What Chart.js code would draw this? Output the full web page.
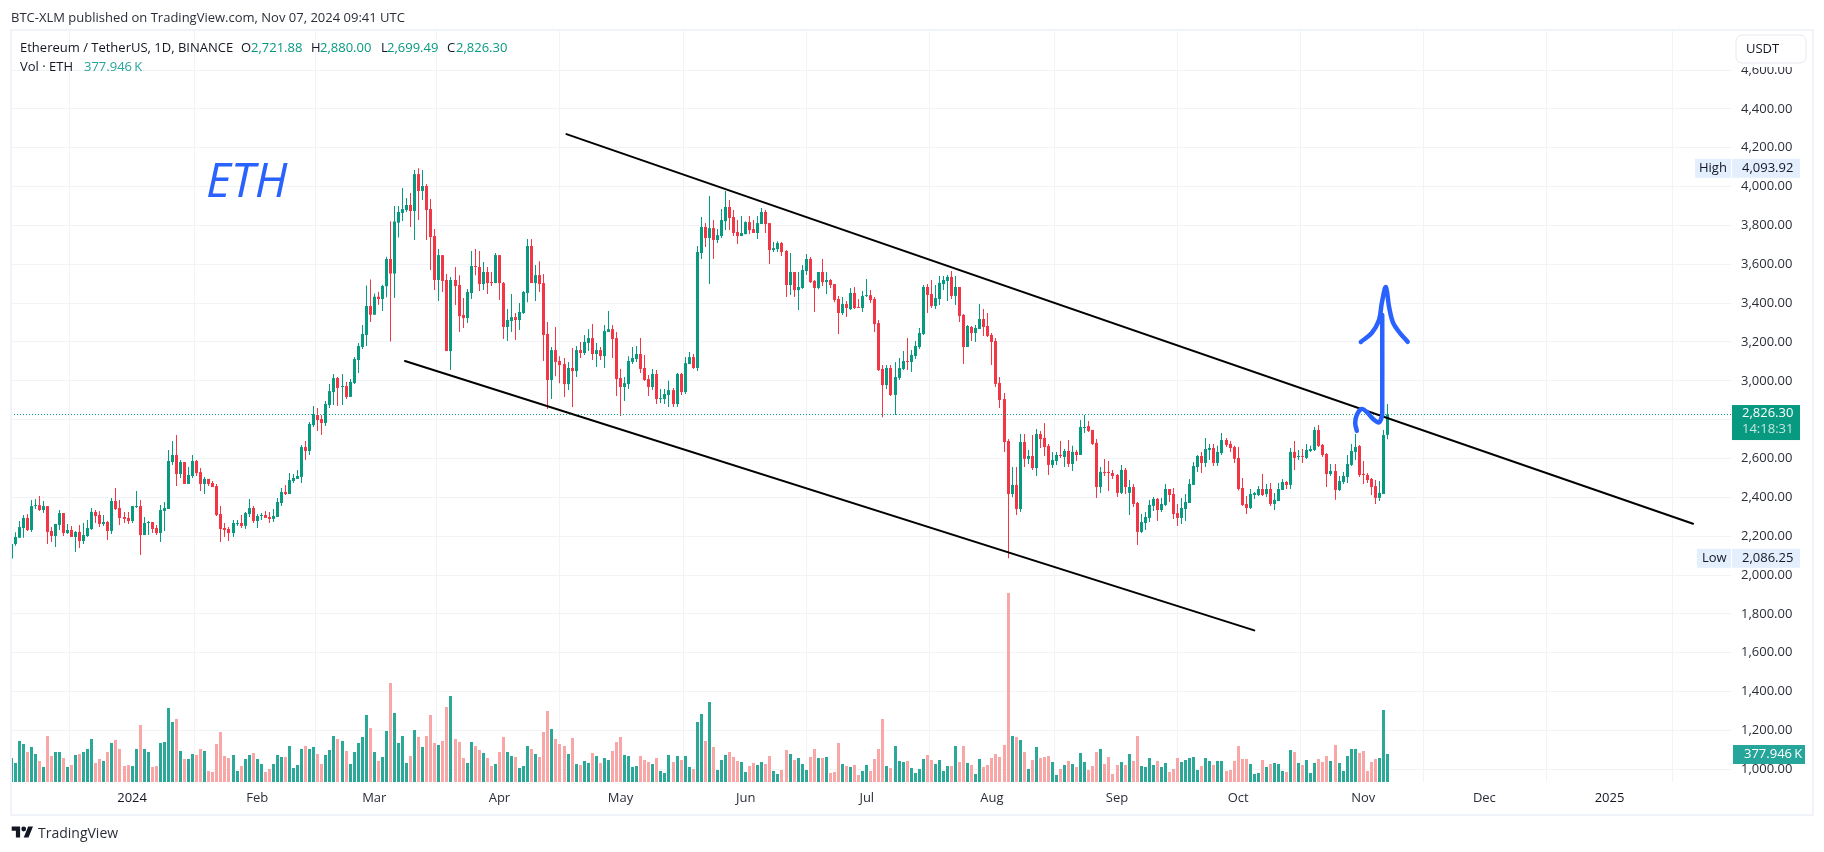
<!DOCTYPE html>
<html>
<head>
<meta charset="utf-8">
<title>ETH</title>
<script src="https://cdn.jsdelivr.net/npm/chart.js@4/dist/chart.umd.js"></script>
<style>
    html, body { margin: 0; padding: 0; background: #fff; overflow: hidden; }
    #wrap { position: relative; width: 1824px; height: 852px; font-family: "Open Sans", sans-serif; font-size: 13px; color: #131722; }
    #wrap canvas { position: absolute; left: 0; top: 0; }
    #frame { position: absolute; left: 10px; top: 29px; width: 1800px; height: 783px; border: 2px solid #f0f3fa; pointer-events: none; }
    .t { position: absolute; white-space: pre; line-height: 16px; }
    .up { color: #089981; }
    #eth { position: absolute; left: 206px; top: 149px; font-size: 48px; line-height: 60px; font-style: italic; color: #2962ff; }
    #logo { position: absolute; left: 11px; top: 826px; }
</style>
</head>
<body>
<div id="wrap">
    <canvas id="chart" width="1824" height="852"></canvas>
    <div id="frame"></div>
    <span class="t" style="left:11px;top:9px;color:#2a2e39">BTC-XLM published on TradingView.com, Nov 07, 2024 09:41 UTC</span>
    <span class="t" style="left:20px;top:39px">Ethereum / TetherUS, 1D, BINANCE</span>
    <span class="t" style="left:241px;top:39px">O</span><span class="t up" style="left:251px;top:39px">2,721.88</span>
    <span class="t" style="left:311px;top:39px">H</span><span class="t up" style="left:320px;top:39px">2,880.00</span>
    <span class="t" style="left:381px;top:39px">L</span><span class="t up" style="left:387px;top:39px">2,699.49</span>
    <span class="t" style="left:447px;top:39px">C</span><span class="t up" style="left:456px;top:39px">2,826.30</span>
    <span class="t" style="left:20px;top:58px">Vol · ETH</span>
    <span class="t" style="left:84px;top:58px;color:#26a69a">377.946&#8201;K</span>
    <span id="eth">ETH</span>
    <svg id="logo" width="23" height="12" viewBox="0 3 36 20"><path fill="#131722" d="M14 22H7V11H0V4h14v18zM28 22h-8l7.5-18h8L28 22z"/><circle fill="#131722" cx="20" cy="8" r="4"/></svg>
    <span class="t" style="left:38px;top:825px;font-size:14px;color:#2a2e39">TradingView</span>
</div>
<script>
// Days are counted from 1 Jan 2024; the first candle is 2 Dec 2023.
const firstDay = -30;

const priceTicks = [1000, 1200, 1400, 1600, 1800, 2000, 2200, 2400, 2600, 2800, 3000, 3200, 3400, 3600, 3800, 4000, 4200, 4400, 4600];
const timeTickDays = [0, 31, 60, 91, 121, 152, 182, 213, 244, 274, 305, 335, 366];
const timeTickLabels = ['2024', 'Feb', 'Mar', 'Apr', 'May', 'Jun', 'Jul', 'Aug', 'Sep', 'Oct', 'Nov', 'Dec', '2025'];

const opens = [
    2085, 2160, 2192, 2242, 2294, 2232, 2355, 2360, 2335, 2355,
    2227, 2201, 2258, 2319, 2216, 2232, 2196, 2222, 2175, 2201,
    2237, 2325, 2309, 2263, 2273, 2227, 2381, 2345, 2299, 2294,
    2278, 2350, 2355, 2206, 2268, 2273, 2242, 2216, 2330, 2340,
    2582, 2618, 2520, 2582, 2469, 2510, 2587, 2530, 2469, 2495,
    2474, 2458, 2314, 2242, 2237, 2216, 2263, 2268, 2253, 2314,
    2345, 2278, 2304, 2309, 2299, 2289, 2299, 2371, 2428, 2417,
    2484, 2495, 2505, 2659, 2639, 2772, 2824, 2803, 2783, 2875,
    2942, 3014, 2968, 2973, 2917, 2989, 3107, 3174, 3236, 3385,
    3340, 3433, 3421, 3487, 3627, 3552, 3814, 3864, 3879, 3905,
    3874, 4064, 3977, 4003, 3884, 3745, 3519, 3647, 3519, 3153,
    3519, 3493, 3339, 3323, 3452, 3591, 3586, 3498, 3560, 3508,
    3503, 3647, 3503, 3277, 3308, 3328, 3313, 3349, 3452, 3694,
    3503, 3544, 3503, 3241, 3004, 3158, 3102, 3086, 2983, 3066,
    3050, 3158, 3143, 3195, 3220, 3138, 3158, 3127, 3251, 3266,
    3220, 3014, 2968, 2983, 3097, 3112, 3138, 3066, 3009, 2968,
    3035, 2906, 2906, 2927, 2952, 2880, 3035, 2942, 3086, 3122,
    3066, 3658, 3792, 3735, 3786, 3725, 3745, 3822, 3895, 3843,
    3766, 3745, 3755, 3817, 3781, 3761, 3807, 3869, 3812, 3673,
    3678, 3709, 3668, 3493, 3560, 3467, 3478, 3565, 3627, 3514,
    3478, 3560, 3508, 3519, 3498, 3421, 3349, 3395, 3369, 3452,
    3380, 3375, 3436, 3441, 3421, 3297, 3061, 2978, 3066, 2927,
    3015, 3061, 3102, 3097, 3128, 3174, 3241, 3483, 3447, 3385,
    3421, 3498, 3514, 3535, 3437, 3483, 3339, 3174, 3277, 3246,
    3267, 3318, 3282, 3236, 3205, 2989, 2906, 2690, 2417, 2464,
    2340, 2685, 2598, 2613, 2551, 2726, 2706, 2665, 2567, 2587,
    2618, 2608, 2639, 2572, 2634, 2618, 2757, 2767, 2747, 2680,
    2453, 2531, 2531, 2525, 2515, 2423, 2541, 2423, 2453, 2371,
    2222, 2268, 2294, 2356, 2392, 2335, 2361, 2443, 2417, 2319,
    2294, 2340, 2371, 2464, 2556, 2613, 2577, 2644, 2654, 2577,
    2628, 2695, 2675, 2659, 2603, 2448, 2366, 2345, 2412, 2412,
    2443, 2417, 2443, 2366, 2381, 2438, 2479, 2464, 2634, 2608,
    2613, 2603, 2639, 2644, 2747, 2670, 2623, 2520, 2536, 2438,
    2479, 2505, 2567, 2634, 2664, 2520, 2515, 2495, 2458, 2397, 2417, 2721.88
];
const highs = [
    2165, 2220, 2278, 2309, 2314, 2386, 2391, 2407, 2381, 2355,
    2247, 2263, 2335, 2319, 2263, 2252, 2227, 2258, 2268, 2283,
    2345, 2335, 2330, 2309, 2278, 2397, 2448, 2386, 2325, 2325,
    2355, 2433, 2386, 2299, 2278, 2273, 2258, 2361, 2376, 2644,
    2690, 2721, 2592, 2582, 2556, 2618, 2592, 2551, 2505, 2495,
    2484, 2469, 2355, 2268, 2247, 2283, 2283, 2309, 2325, 2391,
    2355, 2314, 2319, 2330, 2325, 2340, 2397, 2448, 2463, 2525,
    2520, 2541, 2670, 2690, 2788, 2870, 2860, 2824, 2896, 2984,
    3035, 3020, 3035, 2994, 3009, 3123, 3195, 3287, 3490, 3522,
    3450, 3458, 3495, 3639, 3822, 3900, 3900, 3992, 3941, 3967,
    4085, 4093.92, 4085, 4013, 3936, 3781, 3678, 3647, 3550, 3534,
    3586, 3544, 3426, 3472, 3668, 3678, 3668, 3611, 3586, 3560,
    3658, 3647, 3508, 3369, 3447, 3349, 3400, 3462, 3730, 3730,
    3596, 3616, 3550, 3303, 3174, 3277, 3127, 3117, 3097, 3169,
    3179, 3200, 3236, 3266, 3292, 3194, 3174, 3287, 3359, 3287,
    3251, 3061, 3019, 3127, 3174, 3179, 3220, 3133, 3030, 3061,
    3056, 2958, 2958, 3000, 2963, 3040, 3040, 3122, 3148, 3138,
    3694, 3843, 3812, 3951, 3828, 3781, 3884, 3977, 3931, 3879,
    3828, 3848, 3822, 3848, 3828, 3848, 3889, 3879, 3812, 3714,
    3719, 3714, 3673, 3658, 3560, 3560, 3596, 3653, 3637, 3519,
    3560, 3627, 3560, 3524, 3498, 3436, 3431, 3411, 3478, 3483,
    3421, 3462, 3524, 3467, 3431, 3313, 3081, 3081, 3081, 3097,
    3118, 3154, 3220, 3159, 3205, 3272, 3493, 3498, 3519, 3493,
    3540, 3540, 3545, 3565, 3540, 3483, 3344, 3287, 3282, 3287,
    3395, 3370, 3349, 3246, 3220, 3020, 2937, 2700, 2556, 2556,
    2726, 2726, 2644, 2721, 2752, 2742, 2783, 2675, 2634, 2634,
    2690, 2649, 2695, 2665, 2644, 2798, 2824, 2793, 2747, 2700,
    2556, 2598, 2587, 2541, 2520, 2567, 2551, 2489, 2469, 2376,
    2314, 2325, 2386, 2402, 2397, 2397, 2469, 2443, 2448, 2366,
    2397, 2417, 2495, 2582, 2618, 2634, 2706, 2675, 2675, 2665,
    2731, 2706, 2690, 2665, 2659, 2500, 2407, 2443, 2428, 2458,
    2520, 2469, 2474, 2423, 2474, 2495, 2484, 2654, 2690, 2644,
    2649, 2675, 2665, 2762, 2773, 2675, 2628, 2572, 2572, 2510,
    2531, 2618, 2675, 2726, 2669, 2587, 2525, 2500, 2489, 2484, 2747, 2880
];
const lows = [
    2090, 2151, 2192, 2192, 2227, 2222, 2340, 2330, 2320, 2160,
    2170, 2144, 2232, 2201, 2211, 2196, 2119, 2139, 2160, 2196,
    2232, 2268, 2247, 2253, 2180, 2211, 2335, 2258, 2268, 2263,
    2268, 2345, 2103, 2206, 2206, 2216, 2206, 2170, 2227, 2340,
    2567, 2458, 2500, 2469, 2469, 2500, 2510, 2433, 2417, 2458,
    2453, 2304, 2170, 2196, 2175, 2196, 2253, 2242, 2237, 2299,
    2268, 2242, 2283, 2294, 2268, 2273, 2299, 2355, 2412, 2417,
    2474, 2495, 2474, 2592, 2618, 2762, 2742, 2721, 2767, 2860,
    2875, 2870, 2875, 2906, 2917, 2984, 3040, 3164, 3179, 3303,
    3340, 3392, 3359, 3430, 3202, 3426, 3738, 3823, 3869, 3792,
    3725, 3828, 3931, 3725, 3570, 3467, 3411, 3457, 3153, 3055,
    3390, 3251, 3272, 3297, 3421, 3544, 3462, 3467, 3447, 3488,
    3503, 3416, 3215, 3205, 3251, 3210, 3261, 3344, 3405, 3503,
    3411, 3457, 3102, 2855, 2906, 3024, 2988, 2916, 2952, 2865,
    3019, 3117, 3133, 3153, 3107, 3071, 3107, 3066, 3251, 3117,
    2922, 2819, 2896, 2958, 3086, 3097, 3040, 2999, 2922, 2952,
    2880, 2886, 2880, 2865, 2865, 2865, 2927, 2932, 3086, 3061,
    3050, 3627, 3689, 3498, 3627, 3709, 3735, 3776, 3776, 3745,
    3704, 3745, 3755, 3755, 3761, 3730, 3807, 3761, 3601, 3663,
    3663, 3642, 3431, 3442, 3431, 3364, 3472, 3545, 3503, 3354,
    3471, 3488, 3447, 3478, 3405, 3241, 3339, 3328, 3364, 3369,
    3375, 3354, 3431, 3400, 3251, 3050, 2813, 2958, 2922, 2824,
    3004, 3056, 3056, 3045, 3112, 3164, 3236, 3349, 3375, 3370,
    3390, 3467, 3411, 3421, 3390, 3303, 3087, 3174, 3205, 3200,
    3267, 3231, 3226, 3081, 2968, 2860, 2634, 2086.25, 2400, 2309,
    2325, 2556, 2572, 2541, 2510, 2654, 2613, 2515, 2551, 2567,
    2603, 2556, 2556, 2536, 2587, 2618, 2731, 2737, 2670, 2397,
    2423, 2510, 2433, 2495, 2402, 2417, 2417, 2309, 2350, 2155,
    2217, 2232, 2273, 2330, 2278, 2325, 2356, 2376, 2289, 2253,
    2263, 2278, 2371, 2464, 2531, 2525, 2556, 2592, 2562, 2562,
    2618, 2659, 2634, 2577, 2435, 2356, 2314, 2340, 2392, 2407,
    2407, 2402, 2356, 2335, 2381, 2438, 2443, 2443, 2541, 2592,
    2577, 2598, 2634, 2639, 2659, 2608, 2453, 2510, 2387, 2433,
    2469, 2474, 2562, 2592, 2505, 2469, 2474, 2412, 2366, 2381, 2417, 2699.49
];
const closes = [
    2160, 2196, 2247, 2294, 2232, 2355, 2360, 2335, 2355, 2222,
    2201, 2263, 2319, 2216, 2232, 2196, 2222, 2175, 2206, 2242,
    2325, 2304, 2263, 2273, 2227, 2381, 2340, 2294, 2289, 2278,
    2355, 2355, 2206, 2268, 2273, 2237, 2216, 2335, 2345, 2587,
    2618, 2520, 2582, 2469, 2515, 2587, 2525, 2469, 2495, 2469,
    2453, 2309, 2237, 2232, 2216, 2268, 2268, 2253, 2319, 2345,
    2278, 2304, 2309, 2294, 2289, 2304, 2376, 2428, 2417, 2489,
    2500, 2510, 2659, 2639, 2778, 2829, 2798, 2783, 2881, 2947,
    3014, 2963, 2973, 2917, 2994, 3112, 3179, 3241, 3385, 3340,
    3433, 3421, 3488, 3627, 3552, 3820, 3869, 3884, 3905, 3874,
    4064, 3977, 4003, 3879, 3740, 3519, 3647, 3514, 3153, 3519,
    3488, 3333, 3323, 3457, 3591, 3586, 3498, 3560, 3503, 3503,
    3647, 3503, 3277, 3313, 3328, 3313, 3354, 3457, 3694, 3503,
    3544, 3498, 3236, 3004, 3158, 3097, 3081, 2983, 3066, 3050,
    3158, 3143, 3200, 3220, 3138, 3158, 3127, 3256, 3266, 3215,
    3009, 2968, 2988, 3102, 3117, 3138, 3061, 3004, 2968, 3035,
    2906, 2911, 2932, 2952, 2880, 3035, 2942, 3091, 3122, 3066,
    3663, 3792, 3735, 3786, 3725, 3750, 3828, 3895, 3838, 3761,
    3745, 3761, 3817, 3776, 3761, 3812, 3869, 3807, 3673, 3683,
    3709, 3663, 3493, 3560, 3467, 3483, 3570, 3627, 3508, 3478,
    3560, 3508, 3519, 3493, 3416, 3349, 3395, 3375, 3452, 3375,
    3375, 3436, 3441, 3416, 3292, 3055, 2978, 3066, 2927, 3019,
    3066, 3102, 3097, 3133, 3179, 3246, 3483, 3442, 3385, 3426,
    3504, 3519, 3535, 3437, 3483, 3334, 3174, 3282, 3246, 3272,
    3318, 3277, 3231, 3200, 2984, 2901, 2685, 2417, 2464, 2340,
    2685, 2598, 2613, 2551, 2726, 2700, 2659, 2567, 2592, 2618,
    2613, 2639, 2572, 2634, 2618, 2762, 2762, 2742, 2675, 2453,
    2531, 2525, 2525, 2510, 2423, 2541, 2453, 2453, 2366, 2222,
    2273, 2299, 2361, 2392, 2335, 2366, 2443, 2412, 2314, 2294,
    2345, 2376, 2469, 2561, 2613, 2577, 2649, 2654, 2577, 2634,
    2695, 2670, 2654, 2598, 2443, 2361, 2345, 2417, 2422, 2443,
    2412, 2443, 2366, 2387, 2443, 2479, 2464, 2634, 2603, 2613,
    2608, 2644, 2649, 2747, 2665, 2618, 2520, 2536, 2438, 2484,
    2510, 2572, 2639, 2659, 2515, 2515, 2489, 2453, 2397, 2423, 2721, 2826.30
];
// volume in thousands of ETH
const volumes = [
    324, 257, 554, 513, 405, 473, 378, 284, 203, 621,
    351, 405, 405, 324, 203, 230, 365, 378, 405, 446,
    581, 257, 311, 284, 405, 527, 567, 446, 216, 230,
    216, 446, 770, 446, 405, 203, 216, 527, 540, 999,
    810, 851, 419, 311, 311, 378, 365, 446, 419, 149,
    135, 513, 675, 351, 324, 365, 149, 216, 311, 365,
    392, 311, 243, 135, 176, 243, 365, 338, 338, 486,
    189, 230, 446, 486, 446, 473, 378, 243, 365, 432,
    621, 581, 554, 419, 243, 405, 527, 608, 905, 729,
    405, 284, 338, 689, 1337, 932, 527, 621, 257, 351,
    702, 608, 473, 621, 905, 527, 500, 554, 1013, 1161,
    581, 540, 324, 257, 540, 486, 432, 392, 324, 216,
    243, 405, 608, 405, 351, 338, 189, 216, 486, 446,
    378, 338, 675, 959, 716, 581, 513, 486, 378, 594,
    243, 230, 284, 257, 392, 351, 257, 324, 297, 419,
    540, 608, 365, 351, 203, 216, 351, 297, 270, 243,
    324, 149, 122, 365, 270, 351, 297, 351, 203, 176,
    810, 918, 554, 1080, 473, 162, 297, 365, 405, 338,
    284, 270, 135, 216, 257, 230, 270, 243, 351, 149,
    108, 162, 432, 378, 297, 324, 243, 162, 338, 446,
    324, 324, 338, 122, 135, 527, 243, 216, 203, 230,
    95, 149, 230, 149, 311, 446, 851, 216, 189, 486,
    284, 270, 284, 189, 122, 176, 311, 365, 297, 243,
    297, 149, 216, 216, 486, 270, 486, 257, 230, 108,
    311, 203, 230, 324, 378, 338, 500, 2552, 621, 608,
    567, 405, 176, 297, 473, 324, 338, 351, 270, 95,
    176, 230, 284, 243, 203, 392, 270, 162, 216, 405,
    446, 243, 338, 108, 230, 270, 230, 378, 284, 621,
    216, 203, 324, 230, 284, 203, 257, 135, 176, 324,
    270, 297, 324, 338, 162, 216, 324, 284, 230, 284,
    284, 149, 162, 284, 486, 311, 311, 243, 108, 122,
    297, 203, 243, 257, 243, 149, 135, 432, 405, 257,
    230, 297, 122, 257, 311, 270, 351, 284, 500, 257,
    149, 351, 446, 446, 392, 419, 149, 270, 311, 324, 972, 377.946
];

// hand-drawn marks, as day / price pairs
const upperLineDays = [107.6, 386.7];
const upperLinePrices = [4270, 2264];
const lowerLineDays = [67.6, 278];
const lowerLinePrices = [3102, 1715];
const hookDays = [303.4, 303, 303.4, 304.6, 305.8, 307.5, 308.9, 309.6, 309.7, 309.7];
const hookPrices = [2742, 2783, 2824, 2855, 2841, 2802, 2786, 2815, 2824, 3339];
const arrowHeadDays = [304.4, 307.1, 308.9, 309.6, 310.6, 311.4, 312.4, 314.1, 316];
const arrowHeadPrices = [3200, 3246, 3313, 3401, 3483, 3380, 3298, 3246, 3201];

const UP = '#089981', DOWN = '#f23645', VOL_UP = '#2ca899', VOL_DOWN = '#f8a6a6';
const BLUE = '#2962ff', GRID = '#f2f3f7', TEXT = '#131722';
const FONT = '"Open Sans", sans-serif';

function zip(xs, ys) {
    return xs.map(function (x, i) {
        return { x: x, y: ys[i] };
    });
}

function formatPrice(v) {
    return v.toLocaleString('en-US', { minimumFractionDigits: 2, maximumFractionDigits: 2 });
}

const days = closes.map(function (c, i) {
    return firstDay + i;
});
const isUp = closes.map(function (c, i) {
    return c >= opens[i];
});
const lastIndex = closes.length - 1;

// snap the bars to the pixel grid so that a wick stays one sharp pixel wide
const snapBars = {
    id: 'snapBars',
    beforeDatasetsDraw: function (chart) {
        chart.getSortedVisibleDatasetMetas().forEach(function (meta) {
            if (meta.type !== 'bar') return;
            meta.data.forEach(function (bar) {
                bar.x = Math.round(bar.x - 0.5) + 0.5;
            });
        });
    },
};

function badge(ctx, x, yTop, w, h, fill) {
    ctx.fillStyle = fill;
    ctx.fillRect(x, yTop, w, h);
}

function label(ctx, text, x, y, color, font) {
    ctx.fillStyle = color;
    ctx.font = font || '13px ' + FONT;
    ctx.textAlign = 'left';
    ctx.textBaseline = 'middle';
    ctx.fillText(text, x, y);
}

// price scale badges and the currency button drawn above the axis labels
const scaleBadges = {
    id: 'scaleBadges',
    afterDraw: function (chart) {
        const ctx = chart.ctx;
        const y = chart.scales.y;
        const yVol = chart.scales.yVol;

        ctx.save();
        ctx.fillStyle = '#fff';
        ctx.fillRect(1732, 32, 78, 35);
        ctx.beginPath();
        ctx.roundRect(1736, 35, 70, 28, 6);
        ctx.fillStyle = '#fff';
        ctx.fill();
        ctx.strokeStyle = '#e6e9f2';
        ctx.lineWidth = 1;
        ctx.stroke();
        label(ctx, 'USDT', 1746, 49, TEXT);

        const highPrice = Math.max.apply(null, highs);
        const lowPrice = Math.min.apply(null, lows);
        const highY = y.getPixelForValue(highPrice);
        const lowY = y.getPixelForValue(lowPrice);
        badge(ctx, 1695, highY - 9.5, 36, 19, '#e3effd');
        badge(ctx, 1732, highY - 9.5, 68, 19, '#e3effd');
        label(ctx, 'High', 1699, highY, TEXT);
        label(ctx, formatPrice(highPrice), 1742, highY, TEXT);
        badge(ctx, 1697, lowY - 9.5, 34, 19, '#e3effd');
        badge(ctx, 1732, lowY - 9.5, 68, 19, '#e3effd');
        label(ctx, 'Low', 1702, lowY, TEXT);
        label(ctx, formatPrice(lowPrice), 1742, lowY, TEXT);

        const lastY = y.getPixelForValue(closes[lastIndex]);
        badge(ctx, 1732, lastY - 9.5, 68, 35, UP);
        label(ctx, formatPrice(closes[lastIndex]), 1742, lastY - 1, '#fff');
        label(ctx, '14:18:31', 1742, lastY + 15, '#c4e6df');

        const volY = yVol.getPixelForValue(volumes[lastIndex]);
        badge(ctx, 1733, volY - 9, 72, 19, '#26a69a');
        label(ctx, '377.946\u2009K', 1744, volY + 0.5, '#fff');
        ctx.restore();
    },
};

function lineDataset(points, color, width, order, extra) {
    return Object.assign({
        type: 'line',
        data: points,
        borderColor: color,
        borderWidth: width,
        pointRadius: 0,
        order: order,
        borderCapStyle: 'round',
        borderJoinStyle: 'round',
    }, extra || {});
}

const ctx = document.getElementById('chart');
new Chart(ctx, {
    type: 'bar',
    data: {
        datasets: [
            lineDataset(zip(hookDays, hookPrices), BLUE, 4.5, 0, { tension: 0.35 }),
            lineDataset(zip(arrowHeadDays, arrowHeadPrices), BLUE, 4.5, 0, { tension: 0.35 }),
            lineDataset(zip(upperLineDays, upperLinePrices), '#000', 2, 1),
            lineDataset(zip(lowerLineDays, lowerLinePrices), '#000', 2, 1),
            lineDataset(
                zip([firstDay, 396.1], [closes[lastIndex], closes[lastIndex]]),
                UP, 1, 2, { borderDash: [1, 2], borderCapStyle: 'butt' }
            ),
            {
                // candle bodies
                data: days.map(function (d, i) {
                    return { x: d, y: [opens[i], closes[i]] };
                }),
                backgroundColor: isUp.map(function (up) {
                    return up ? UP : DOWN;
                }),
                barThickness: 3,
                minBarLength: 1,
                order: 3,
            },
            {
                // candle wicks
                data: days.map(function (d, i) {
                    return { x: d, y: [lows[i], highs[i]] };
                }),
                backgroundColor: isUp.map(function (up) {
                    return up ? UP : DOWN;
                }),
                barThickness: 1,
                order: 4,
            },
            {
                data: zip(days, volumes),
                yAxisID: 'yVol',
                backgroundColor: isUp.map(function (up) {
                    return up ? VOL_UP : VOL_DOWN;
                }),
                barThickness: 3,
                order: 5,
            },
        ],
    },
    options: {
        responsive: false,
        animation: false,
        events: [],
        layout: { padding: { left: 11, top: 31, right: 12, bottom: 39 } },
        datasets: { bar: { grouped: false, inflateAmount: 0, borderWidth: 0 } },
        plugins: { legend: { display: false }, tooltip: { enabled: false } },
        scales: {
            x: {
                type: 'linear',
                offset: false,
                min: firstDay,
                max: 396.1,
                border: { display: false },
                grid: { color: GRID, drawTicks: false },
                afterFit: function (scale) {
                    scale.height = 31;
                },
                afterBuildTicks: function (scale) {
                    scale.ticks = timeTickDays.map(function (d) {
                        return { value: d };
                    });
                },
                ticks: {
                    autoSkip: false,
                    maxRotation: 0,
                    padding: 8,
                    color: function (c) {
                        return c.tick && (c.tick.value === 0 || c.tick.value === 366) ? TEXT : '#2a2e39';
                    },
                    font: { family: FONT, size: 13 },
                    callback: function (value) {
                        return timeTickLabels[timeTickDays.indexOf(value)];
                    },
                },
            },
            y: {
                position: 'right',
                min: 934.6,
                max: 4800.8,
                border: { display: false },
                grid: { color: GRID, drawTicks: false },
                afterFit: function (scale) {
                    scale.width = 81;
                },
                afterBuildTicks: function (scale) {
                    scale.ticks = priceTicks.map(function (v) {
                        return { value: v };
                    });
                },
                ticks: {
                    padding: 10,
                    color: '#2a2e39',
                    font: { family: FONT, size: 13 },
                    callback: function (value) {
                        return formatPrice(value);
                    },
                },
            },
            yVol: { display: false, min: 0, max: 10138 },
        },
    },
    plugins: [snapBars, scaleBadges],
});
</script>
</body>
</html>
